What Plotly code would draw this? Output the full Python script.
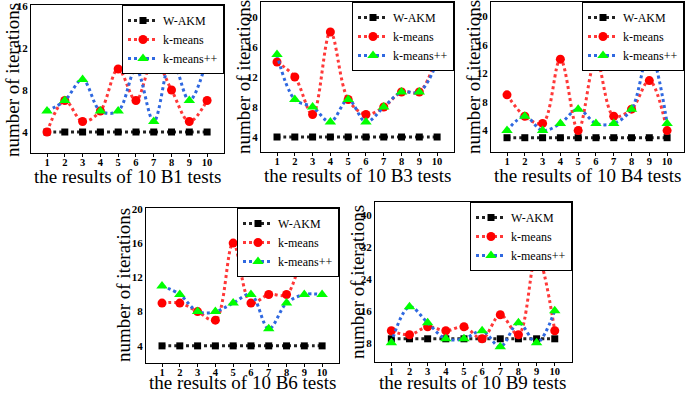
import plotly.graph_objects as go

tests = [1, 2, 3, 4, 5, 6, 7, 8, 9, 10]
series_names = ["W-AKM", "k-means", "k-means++"]

b1_wakm = [4, 4, 4, 4, 4, 4, 4, 4, 4, 4]
b1_kmeans = [4, 7, 5, 6, 10, 7, 11, 8, 5, 7]
b1_kpp = [6, 7, 9, 6, 6, 10, 5, 11, 7, 11]

b3_wakm = [4, 4, 4, 4, 4, 4, 4, 4, 4, 4]
b3_kmeans = [14, 12, 7, 18, 9, 7, 8, 10, 10, 15]
b3_kpp = [15, 9, 8, 6, 9, 6, 8, 10, 10, 14]

b4_wakm = [3, 3, 3, 3, 3, 3, 3, 3, 3, 3]
b4_kmeans = [9, 6, 5, 14, 4, 14, 6, 7, 11, 4]
b4_kpp = [4, 6, 4, 5, 7, 5, 5, 7, 15, 5]

b6_wakm = [4, 4, 4, 4, 4, 4, 4, 4, 4, 4]
b6_kmeans = [9, 9, 8, 7, 16, 9, 10, 10, 14, 13]
b6_kpp = [11, 10, 8, 8, 9, 10, 6, 9, 10, 10]

b9_wakm = [9, 9, 9, 9, 9, 9, 9, 9, 9, 9]
b9_kmeans = [11, 10, 12, 11, 12, 9, 15, 10, 30, 11]
b9_kpp = [8, 17, 13, 9, 9, 11, 7, 13, 8, 16]

dataset_labels = ["B1", "B3", "B4", "B6", "B9"]
y_tickvals = [[4, 8, 12, 16], [4, 8, 12, 16, 20], [4, 8, 12, 16, 20],
              [4, 8, 12, 16, 20], [8, 16, 24, 32, 40]]
y_ranges = [[2, 16.1], [2, 22], [1, 22], [2, 20.1], [3.2, 43.2]]

W, H = 685, 393
# pixel boxes: (left, right, top, bottom)
boxes = [(31, 224, 5, 153), (261, 454, 2, 152), (491, 684, 2, 152),
         (146, 339, 208, 363), (375, 572, 202, 362)]
ytitle_pos = [(12, 80), (243, 77), (473, 77), (123, 285), (357, 282)]
xtitle_pos = [(127, 176), (357, 175), (587, 175), (243, 382), (473, 382)]

data = [(b1_wakm, b1_kmeans, b1_kpp), (b3_wakm, b3_kmeans, b3_kpp),
        (b4_wakm, b4_kmeans, b4_kpp), (b6_wakm, b6_kmeans, b6_kpp),
        (b9_wakm, b9_kmeans, b9_kpp)]

styles = [
    dict(line=dict(color="#222222", width=3, dash="dot", shape="spline"),
         marker=dict(symbol="square", color="#000000", size=7)),
    dict(line=dict(color="#ff3838", width=3, dash="dot", shape="spline"),
         marker=dict(symbol="circle", color="#ff0000", size=9)),
    dict(line=dict(color="#2f68e0", width=3, dash="dot", shape="spline"),
         marker=dict(symbol="triangle-up", color="#00ff00", size=10)),
]

FONT = "Times New Roman, Liberation Serif, serif"
fig = go.Figure()
layout = dict(width=W, height=H, margin=dict(l=0, r=0, t=0, b=0, autoexpand=False),
              paper_bgcolor="white", plot_bgcolor="white", showlegend=True,
              font=dict(family=FONT, color="black"))
annotations = []

for i, (box, series) in enumerate(zip(boxes, data)):
    n = "" if i == 0 else str(i + 1)
    lg = "legend" if i == 0 else "legend" + str(i + 1)
    l, r, t, b = box
    for k, ys in enumerate(series):
        fig.add_trace(go.Scatter(x=tests, y=ys, mode="lines+markers",
                                 name=series_names[k], xaxis="x" + n, yaxis="y" + n,
                                 legend=lg, **styles[k]))
    layout["xaxis" + n] = dict(domain=[l / W, r / W], anchor="y" + n, automargin=False,
                               range=[0.1, 10.95], tickvals=tests,
                               ticks="outside", ticklen=3, tickcolor="black",
                               ticklabelstandoff=-4, ticklabeloverflow="allow",
                               showline=True, linecolor="black", linewidth=1, mirror=True,
                               showgrid=False, zeroline=False,
                               tickfont=dict(family=FONT, size=10.5, weight="bold"))
    layout["yaxis" + n] = dict(domain=[1 - b / H, 1 - t / H], anchor="x" + n, automargin=False,
                               range=y_ranges[i], tickvals=y_tickvals[i],
                               ticks="", ticklabeloverflow="allow",
                               showline=True, linecolor="black", linewidth=1,
                               mirror=True, showgrid=False, zeroline=False,
                               tickfont=dict(family=FONT, size=11, weight="bold"))
    layout[lg] = dict(x=r / W, y=1 - t / H, xanchor="right", yanchor="top",
                      bgcolor="white", bordercolor="black", borderwidth=1,
                      font=dict(family=FONT, size=12), tracegroupgap=0,
                      itemwidth=30)
    yx, yy = ytitle_pos[i]
    annotations.append(dict(text="number of iterations", x=yx / W, y=1 - yy / H,
                            xref="paper", yref="paper", showarrow=False, textangle=-90,
                            font=dict(family=FONT, size=19), xanchor="center", yanchor="middle"))
    xx, xy = xtitle_pos[i]
    annotations.append(dict(text="the results of 10 " + dataset_labels[i] + " tests",
                            x=xx / W, y=1 - xy / H, xref="paper", yref="paper",
                            showarrow=False, font=dict(family=FONT, size=19),
                            xanchor="center", yanchor="middle"))

layout["annotations"] = annotations
fig.update_layout(**layout)
fig.write_html("out.html", config={"displayModeBar": False},
               post_script="document.body.style.margin='0';document.body.style.overflow='hidden';")
